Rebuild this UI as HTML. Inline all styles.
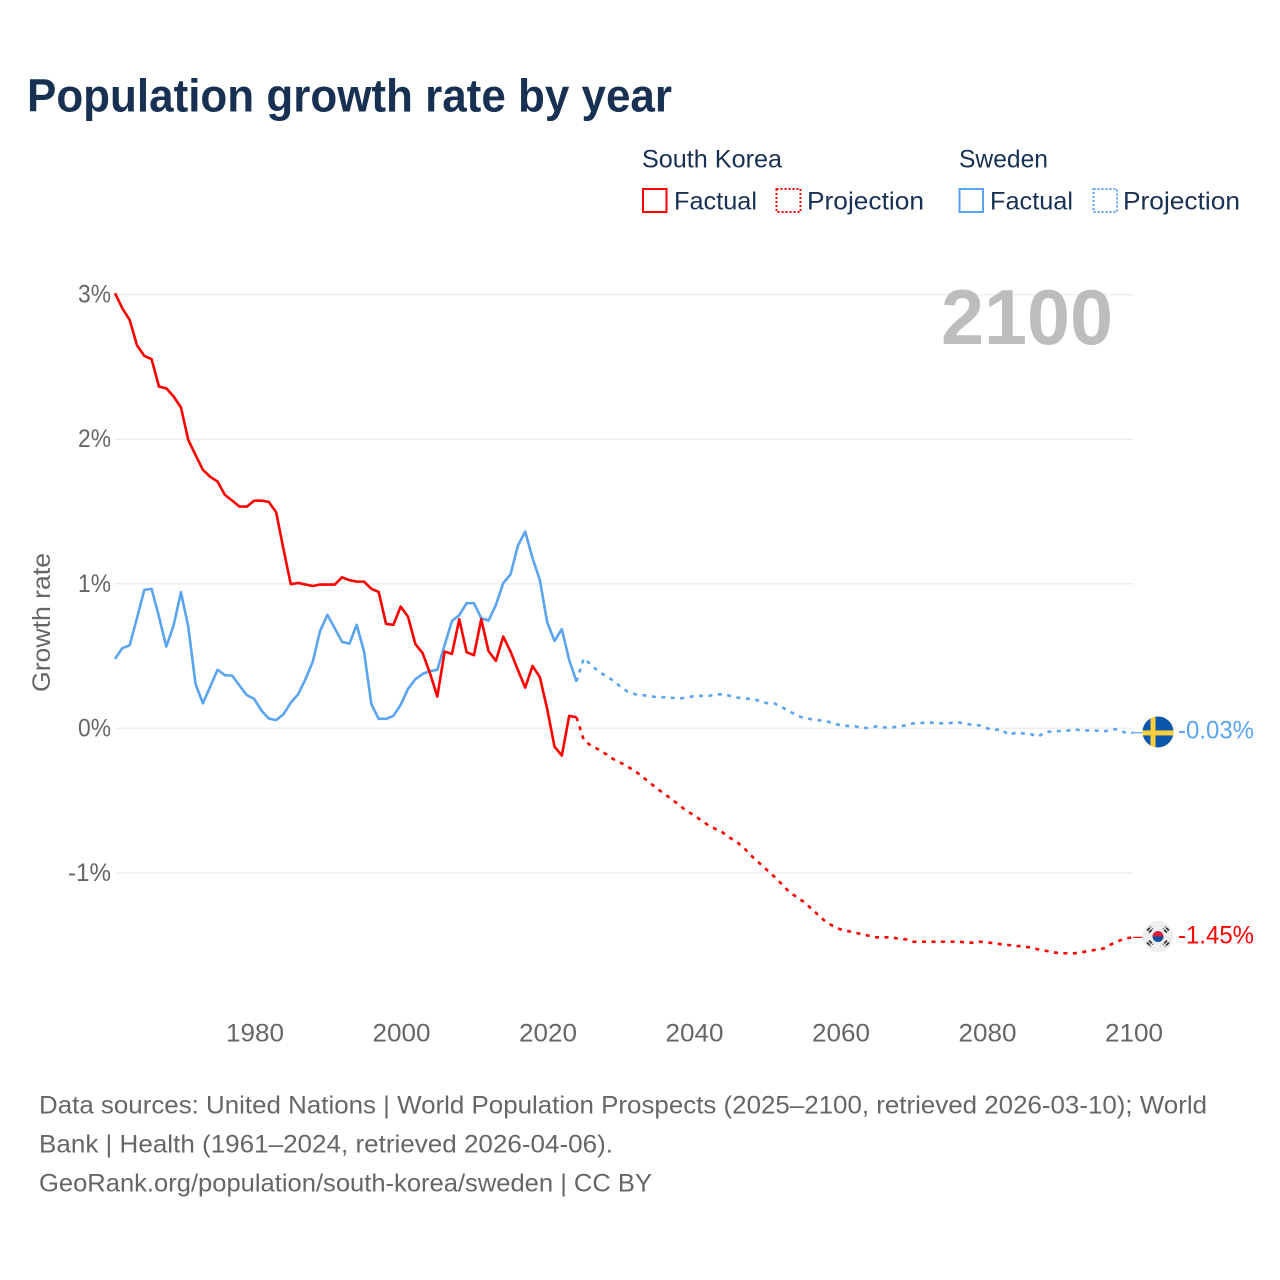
<!DOCTYPE html>
<html lang="en">
<head>
<meta charset="utf-8">
<title>Population growth rate by year</title>
<style>
html,body{margin:0;padding:0;background:#fff;}
body{width:1280px;height:1280px;overflow:hidden;}
svg{display:block;font-family:"Liberation Sans",sans-serif;}
</style>
</head>
<body>
<svg id="chart" width="1280" height="1280" viewBox="0 0 1280 1280" xmlns="http://www.w3.org/2000/svg">
  <rect x="0" y="0" width="1280" height="1280" fill="#ffffff"/>
  <text x="27" y="111.500" font-size="46" font-weight="700" fill="#183153" textLength="645" lengthAdjust="spacingAndGlyphs">Population growth rate by year</text>

  <g font-size="25" fill="#183153">
    <text x="642" y="167.500" textLength="140" lengthAdjust="spacingAndGlyphs">South Korea</text>
    <text x="959" y="167.500" textLength="89" lengthAdjust="spacingAndGlyphs">Sweden</text>
    <rect x="643" y="189" width="23.500" height="23" fill="none" stroke="#ff0000" stroke-width="2"/>
    <text x="674" y="209.500" textLength="83" lengthAdjust="spacingAndGlyphs">Factual</text>
    <rect x="776.500" y="189" width="24" height="23" fill="none" stroke="#ff0000" stroke-width="2" stroke-dasharray="2 2"/>
    <text x="807" y="209.500" textLength="117" lengthAdjust="spacingAndGlyphs">Projection</text>
    <rect x="959.500" y="189" width="23.500" height="23" fill="none" stroke="#5ba4ef" stroke-width="2"/>
    <text x="990" y="209.500" textLength="83" lengthAdjust="spacingAndGlyphs">Factual</text>
    <rect x="1093.500" y="189" width="23.500" height="23" fill="none" stroke="#5ba4ef" stroke-width="2" stroke-dasharray="2 2"/>
    <text x="1123" y="209.500" textLength="117" lengthAdjust="spacingAndGlyphs">Projection</text>
  </g>

  <text transform="translate(50,622.5) rotate(-90)" text-anchor="middle" font-size="25" fill="#666666" textLength="139" lengthAdjust="spacingAndGlyphs">Growth rate</text>
  <g id="grid"></g>
  <g id="yticks" font-size="25" fill="#666666"></g>
  <g id="xticks" font-size="25" fill="#666666"></g>
  <text x="941" y="344" font-size="78" font-weight="700" fill="#bdbdbd" textLength="172" lengthAdjust="spacingAndGlyphs">2100</text>
  <g id="series"></g>

  <g id="flag-sweden">
    <defs>
      <clipPath id="flag-clip"><circle cx="0" cy="0" r="15.500"/></clipPath>
    </defs>
    <g clip-path="url(#flag-clip)">
      <rect x="-16" y="-16" width="32" height="32" fill="#0a57ad"/>
      <rect x="-7.500" y="-16" width="5" height="32" fill="#fdcf3a"/>
      <rect x="-16" y="-1.500" width="32" height="5" fill="#fdcf3a"/>
    </g>
  </g>
  <g id="flag-korea">
    <circle cx="0" cy="0" r="15.500" fill="#eeeeee"/>
    <path d="M-5.500 0A5.500 5.500 0 0 1 5.500 0Z" fill="#d5203a"/>
    <path d="M-5.500 0A5.500 5.500 0 0 0 5.500 0Z" fill="#0b4ea2"/>
    <g stroke="#333333" stroke-width="1.800" stroke-dasharray="4 1">
      <path d="M-11 -6L-7 -10M-9 -4L-5 -8"/>
      <path d="M11 -6L7 -10M9 -4L5 -8"/>
      <path d="M-11 6L-7 10M-9 4L-5 8"/>
      <path d="M11 6L7 10M9 4L5 8"/>
    </g>
  </g>
  <text id="label-sweden" x="1178" font-size="25" fill="#5ba4ef" textLength="76" lengthAdjust="spacingAndGlyphs"></text>
  <text id="label-korea" x="1178" font-size="25" fill="#ff0000" textLength="76" lengthAdjust="spacingAndGlyphs"></text>

  <g font-size="25" fill="#666666">
    <text x="39" y="1113.500" textLength="1168" lengthAdjust="spacingAndGlyphs">Data sources: United Nations | World Population Prospects (2025–2100, retrieved 2026-03-10); World</text>
    <text x="39" y="1152.500" textLength="574" lengthAdjust="spacingAndGlyphs">Bank | Health (1961–2024, retrieved 2026-04-06).</text>
    <text x="39" y="1191.500" textLength="613" lengthAdjust="spacingAndGlyphs">GeoRank.org/population/south-korea/sweden | CC BY</text>
  </g>
</svg>
<script>
const factualStartYear = 1961;
const projectionStartYear = 2024;
const xTickValues = [1980, 2000, 2020, 2040, 2060, 2080, 2100];
const yTickValues = [3, 2, 1, 0, -1];
const yTickLabels = ["3%", "2%", "1%", "0%", "-1%"];
const koreaEndLabel = "-1.45%";
const swedenEndLabel = "-0.03%";

const koreaFactual = [3.01,2.905,2.825,2.65,2.576,2.553,2.364,2.352,2.295,2.22,1.995,1.89,1.788,1.74,1.707,1.615,1.575,1.534,1.534,1.575,1.575,1.566,1.495,1.24,0.997,1.006,0.995,0.985,0.995,0.995,0.995,1.045,1.025,1.015,1.015,0.965,0.944,0.723,0.716,0.842,0.773,0.584,0.52,0.382,0.22,0.531,0.515,0.755,0.527,0.506,0.755,0.534,0.467,0.635,0.531,0.405,0.282,0.432,0.354,0.135,-0.126,-0.188,0.086,0.077];
const swedenFactual = [0.481,0.555,0.575,0.762,0.958,0.965,0.773,0.566,0.711,0.942,0.704,0.306,0.174,0.289,0.405,0.368,0.365,0.296,0.23,0.204,0.123,0.068,0.057,0.098,0.178,0.236,0.34,0.462,0.674,0.785,0.693,0.598,0.586,0.716,0.531,0.167,0.066,0.066,0.086,0.163,0.273,0.34,0.377,0.396,0.405,0.577,0.743,0.783,0.866,0.866,0.762,0.746,0.854,1.004,1.066,1.264,1.361,1.177,1.027,0.734,0.605,0.686,0.474,0.324];
const koreaProjection = [0.077,-0.081,-0.12,-0.145,-0.177,-0.212,-0.237,-0.265,-0.295,-0.334,-0.376,-0.415,-0.454,-0.488,-0.53,-0.569,-0.6,-0.634,-0.67,-0.696,-0.721,-0.758,-0.79,-0.834,-0.887,-0.933,-0.979,-1.025,-1.076,-1.129,-1.164,-1.198,-1.244,-1.29,-1.336,-1.366,-1.389,-1.401,-1.412,-1.424,-1.435,-1.445,-1.445,-1.445,-1.454,-1.459,-1.475,-1.475,-1.475,-1.475,-1.475,-1.475,-1.475,-1.479,-1.482,-1.475,-1.479,-1.486,-1.493,-1.498,-1.505,-1.507,-1.516,-1.528,-1.537,-1.548,-1.555,-1.555,-1.555,-1.548,-1.539,-1.53,-1.521,-1.493,-1.47,-1.452,-1.445];
const swedenProjection = [0.324,0.485,0.439,0.393,0.363,0.331,0.289,0.254,0.236,0.23,0.223,0.216,0.216,0.212,0.206,0.213,0.223,0.225,0.223,0.236,0.236,0.225,0.213,0.206,0.204,0.19,0.174,0.174,0.147,0.121,0.091,0.073,0.064,0.057,0.052,0.036,0.022,0.017,0.015,0.002,0.005,0.014,0.007,0.005,0.014,0.021,0.035,0.037,0.044,0.035,0.035,0.037,0.044,0.032,0.025,0.021,0.002,-0.012,-0.005,-0.046,-0.028,-0.035,-0.039,-0.058,-0.025,-0.021,-0.018,-0.016,-0.007,-0.014,-0.014,-0.016,-0.023,-0.005,-0.007,-0.032,-0.03];

const SVG_NS = "http://www.w3.org/2000/svg";
const KOREA_COLOR = "#ff0000";
const SWEDEN_COLOR = "#5ba4ef";
const FLAG_X = 1158;

function xScale(year) { return 115 + (year - 1961) * 7.325; }
function yScale(value) { return 728.4 - value * 144.6; }

function make(tag, parent) {
  const el = document.createElementNS(SVG_NS, tag);
  parent.appendChild(el);
  return el;
}
function linePath(values, startYear) {
  return values.map(function (v, i) {
    return (i ? "L" : "M") + xScale(startYear + i).toFixed(2) + " " + yScale(v).toFixed(2);
  }).join("");
}

const grid = document.getElementById("grid");
const yTicks = document.getElementById("yticks");
yTickValues.forEach(function (v, i) {
  const line = make("line", grid);
  
  
  line.setAttribute("x1", 115);
  line.setAttribute("x2", 1133.500);
  line.setAttribute("y1", yScale(v));
  line.setAttribute("y2", yScale(v));
  line.setAttribute("stroke", "#eeeeee");
  line.setAttribute("stroke-width", "1.500");

  const label = make("text", yTicks);
  
  
  const w = yTickLabels[i].length === 2 ? 33 : 43;
  label.setAttribute("x", 111 - w);
  label.setAttribute("y", yScale(v) + 8);
  label.setAttribute("textLength", w);
  label.setAttribute("lengthAdjust", "spacingAndGlyphs");
  label.textContent = yTickLabels[i];
});

const xTicks = document.getElementById("xticks");
xTickValues.forEach(function (year) {
  const label = make("text", xTicks);
  
  
  label.setAttribute("x", xScale(year) - 28.200);
  label.setAttribute("y", 1041.500);
  label.setAttribute("textLength", 58);
  label.setAttribute("lengthAdjust", "spacingAndGlyphs");
  label.textContent = String(year);
});

const series = document.getElementById("series");

const koreaProjectionLine = make("path", series);


koreaProjectionLine.setAttribute("d", linePath(koreaProjection, projectionStartYear));
koreaProjectionLine.setAttribute("fill", "none");
koreaProjectionLine.setAttribute("stroke", KOREA_COLOR);
koreaProjectionLine.setAttribute("stroke-width", "2.600");
koreaProjectionLine.setAttribute("stroke-dasharray", "4 5.500");

const swedenProjectionLine = make("path", series);


swedenProjectionLine.setAttribute("d", linePath(swedenProjection, projectionStartYear));
swedenProjectionLine.setAttribute("fill", "none");
swedenProjectionLine.setAttribute("stroke", SWEDEN_COLOR);
swedenProjectionLine.setAttribute("stroke-width", "2.600");
swedenProjectionLine.setAttribute("stroke-dasharray", "4 5.500");

const swedenFactualLine = make("path", series);


swedenFactualLine.setAttribute("d", linePath(swedenFactual, factualStartYear));
swedenFactualLine.setAttribute("fill", "none");
swedenFactualLine.setAttribute("stroke", SWEDEN_COLOR);
swedenFactualLine.setAttribute("stroke-width", "2.600");
swedenFactualLine.setAttribute("stroke-linejoin", "round");

const koreaFactualLine = make("path", series);


koreaFactualLine.setAttribute("d", linePath(koreaFactual, factualStartYear));
koreaFactualLine.setAttribute("fill", "none");
koreaFactualLine.setAttribute("stroke", KOREA_COLOR);
koreaFactualLine.setAttribute("stroke-width", "2.600");
koreaFactualLine.setAttribute("stroke-linejoin", "round");

const koreaEndY = yScale(koreaProjection[koreaProjection.length - 1]);
const swedenEndY = yScale(swedenProjection[swedenProjection.length - 1]);

const koreaLeader = make("line", series);


koreaLeader.setAttribute("x1", xScale(2100));
koreaLeader.setAttribute("x2", FLAG_X - 16);
koreaLeader.setAttribute("y1", koreaEndY);
koreaLeader.setAttribute("y2", koreaEndY);
koreaLeader.setAttribute("stroke", KOREA_COLOR);
koreaLeader.setAttribute("stroke-width", "1.200");

const swedenLeader = make("line", series);


swedenLeader.setAttribute("x1", xScale(2100));
swedenLeader.setAttribute("x2", FLAG_X - 16);
swedenLeader.setAttribute("y1", swedenEndY);
swedenLeader.setAttribute("y2", swedenEndY);
swedenLeader.setAttribute("stroke", SWEDEN_COLOR);
swedenLeader.setAttribute("stroke-width", "1.200");

document.getElementById("flag-sweden").setAttribute("transform", "translate(" + FLAG_X + " " + (swedenEndY - 0.8) + ")");
document.getElementById("flag-korea").setAttribute("transform", "translate(" + FLAG_X + " " + (koreaEndY - 0.8) + ")");

const swedenLabelEl = document.getElementById("label-sweden");
swedenLabelEl.setAttribute("y", swedenEndY + 6);
swedenLabelEl.textContent = swedenEndLabel;
const koreaLabelEl = document.getElementById("label-korea");
koreaLabelEl.setAttribute("y", koreaEndY + 6);
koreaLabelEl.textContent = koreaEndLabel;
</script>
</body>
</html>
